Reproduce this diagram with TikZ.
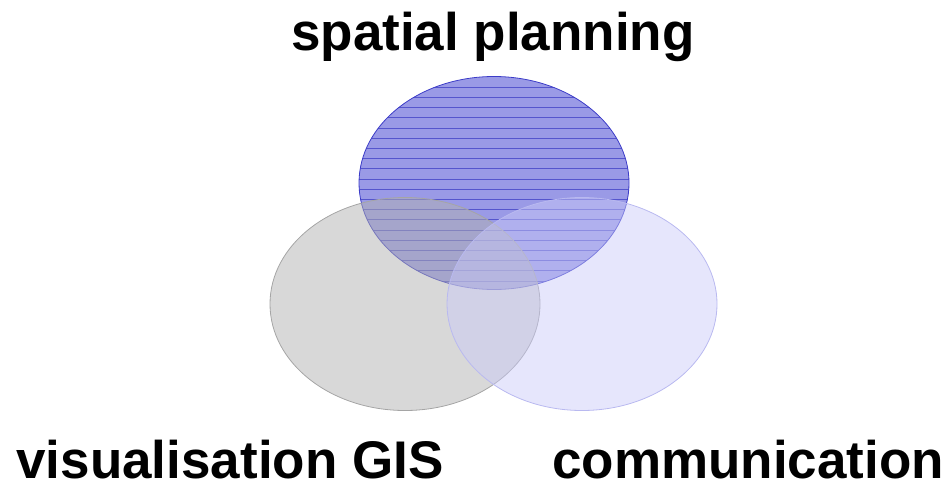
\documentclass[tikz,border=0pt]{standalone}
\usepackage{fontspec}
\setmainfont{Liberation Sans}
\usetikzlibrary{shapes.geometric}
\definecolor{planfill}{RGB}{154,154,230}
\definecolor{planline}{RGB}{60,60,200}
\definecolor{hatchline}{RGB}{85,85,205}
\definecolor{gisfill}{RGB}{177,177,177}
\definecolor{gisline}{RGB}{165,165,165}
\definecolor{comfill}{RGB}{202,202,249}
\definecolor{comline}{RGB}{185,185,240}
\tikzset{
  set/.style={ellipse, minimum width=270pt, minimum height=213pt, inner sep=0pt, line width=0.8pt},
  label/.style={font=\fontsize{53}{60}\selectfont\bfseries, anchor=base, inner sep=0pt}
}
\begin{document}
\begin{tikzpicture}[x=1pt,y=-1pt]
	\useasboundingbox (0,0) rectangle (949,484);

	\node[set, fill=planfill, draw=planline,
	      path picture={\foreach \k in {0,...,19}
	        \draw[hatchline, line width=0.6pt] (-140pt,96pt-10.2pt*\k) -- (140pt,96pt-10.2pt*\k);}]
	      (plan) at (494,183) {};
	\node[set, fill=gisfill, fill opacity=0.5, draw=gisline] (gis) at (405,304) {};
	\node[set, fill=comfill, fill opacity=0.47, draw=comline] (com) at (582,304) {};

	\node[label] (plantext) at (493,51) {spatial planning};
	\node[label] (gistext) at (230,478) {visualisation GIS};
	\node[label] (comtext) at (748,478) {communication};
\end{tikzpicture}
\end{document}
